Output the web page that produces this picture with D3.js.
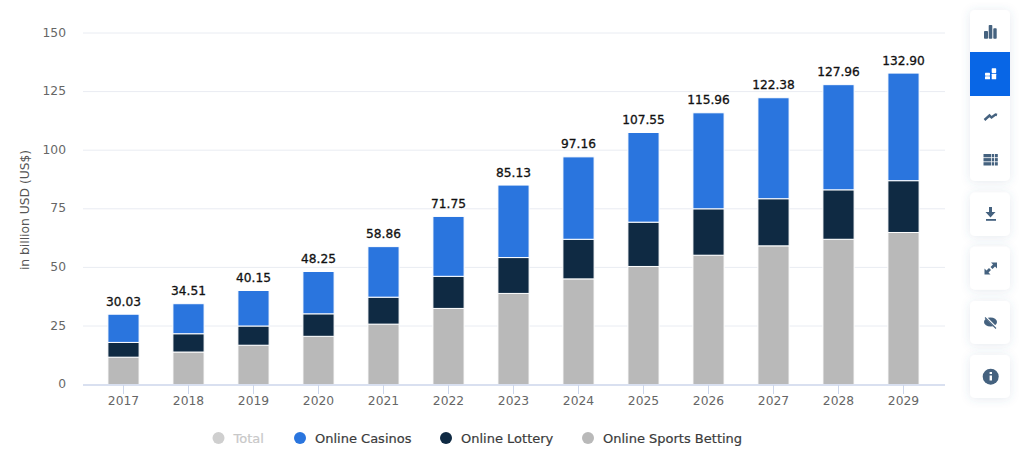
<!DOCTYPE html>
<html><head><meta charset="utf-8">
<script src="https://cdn.jsdelivr.net/npm/d3@7/dist/d3.min.js"></script>
<style>
html,body{margin:0;padding:0;background:#fff;overflow:hidden}
svg{display:block;font-family:"DejaVu Sans",sans-serif}
</style></head><body>
<svg id="c" width="1024" height="476"></svg>
<script>
const years=["2017","2018","2019","2020","2021","2022","2023","2024","2025","2026","2027","2028","2029"];
const totals=[30.03,34.51,40.15,48.25,58.86,71.75,85.13,97.16,107.55,115.96,122.38,127.96,132.90];
const sportsBetting=[11.7,13.9,16.8,20.6,25.8,32.5,38.9,45.1,50.4,55.2,59.2,62.0,64.9];
const onlineLottery=[6.3,7.8,8.2,9.6,11.5,13.7,15.3,16.9,18.9,19.8,20.1,21.1,22.1];
const onlineCasinos=[12.03,12.81,15.15,18.05,21.56,25.55,30.93,35.16,38.25,40.96,43.08,44.86,45.9];
const yTicks=[0,25,50,75,100,125,150];
const legendItems=[["Total","#cfcfcf","#c8c8c8"],["Online Casinos","#2a75de","#3b3b3b"],["Online Lottery","#0f2a43","#3b3b3b"],["Online Sports Betting","#b9b9b9","#3b3b3b"]];
const yTitle="in billion USD (US$)";

const svg=d3.select("#c");
const y=d3.scaleLinear().domain([0,150]).range([384.6,33]);
const x=d3.scaleBand().domain(years).range([91,936]).paddingInner(0.52).paddingOuter(0.26);

svg.append("g").selectAll("line").data(yTicks.filter(d=>d>0)).join("line")
  .attr("x1",83).attr("x2",945).attr("y1",d=>y(d)).attr("y2",d=>y(d))
  .attr("stroke","#e9ecf2").attr("stroke-width",1);

svg.append("g").selectAll("text").data(yTicks).join("text")
  .attr("x",66).attr("y",d=>y(d)+3.5).attr("text-anchor","end")
  .attr("font-size",12.3).attr("fill","#666").text(d=>d);

svg.append("text").attr("transform","translate(28.5,210) rotate(-90)")
  .attr("text-anchor","middle").attr("font-size",12.3).attr("fill","#555").text(yTitle);

const rows=years.map((yr,i)=>({yr,sports:sportsBetting[i],lottery:onlineLottery[i],casinos:onlineCasinos[i]}));
const keys=["sports","lottery","casinos"];
const cols={sports:"#b9b9b9",lottery:"#0f2a43",casinos:"#2a75de"};
const series=d3.stack().keys(keys)(rows);
svg.append("g").selectAll("g").data(series).join("g").attr("fill",s=>cols[s.key])
  .selectAll("rect").data(s=>s).join("rect")
  .attr("x",d=>x(d.data.yr)).attr("width",x.bandwidth())
  .attr("y",d=>y(d[1])).attr("height",d=>y(d[0])-y(d[1]))
  .attr("stroke","#fff").attr("stroke-width",1);

svg.append("g").selectAll("text").data(years).join("text")
  .attr("x",d=>x(d)+x.bandwidth()/2).attr("y",(d,i)=>y(totals[i])-8.5)
  .attr("text-anchor","middle").attr("font-size",12.2).attr("font-weight",400)
  .attr("fill","#111").attr("stroke","#111").attr("stroke-width",0.3).text((d,i)=>totals[i].toFixed(2));

svg.append("line").attr("x1",83).attr("x2",945).attr("y1",385).attr("y2",385).attr("stroke","#ccd6eb").attr("stroke-width",1.5);
svg.append("g").selectAll("line").data(years).join("line")
  .attr("x1",d=>x(d)+x.bandwidth()/2).attr("x2",d=>x(d)+x.bandwidth()/2).attr("y1",385).attr("y2",394).attr("stroke","#ccd6eb");
svg.append("g").selectAll("text").data(years).join("text")
  .attr("x",d=>x(d)+x.bandwidth()/2).attr("y",405).attr("text-anchor","middle")
  .attr("font-size",12.3).attr("fill","#666").text(d=>d);

const lx=[218.5,300,446,588];
const lg=svg.append("g").selectAll("g").data(legendItems).join("g").attr("transform",(d,i)=>`translate(${lx[i]},438)`);
lg.append("circle").attr("r",6).attr("fill",d=>d[1]);
lg.append("text").attr("x",15).attr("y",5).attr("font-size",13)
  .attr("fill",d=>d[2]).attr("stroke",d=>d[2]).attr("stroke-width",0.2).text(d=>d[0]);

const defs=svg.append("defs");
const f=defs.append("filter").attr("id","sh").attr("x","-40%").attr("y","-40%").attr("width","180%").attr("height","180%");
f.append("feDropShadow").attr("dx",0).attr("dy",1).attr("stdDeviation",5).attr("flood-color","#4a6a90").attr("flood-opacity",0.14);
const tb=svg.append("g");
const panels=[[10,171],[192.5,43.5],[246.7,43],[301,43],[355,43]];
tb.selectAll("rect.p").data(panels).join("rect").attr("class","p")
  .attr("x",970).attr("y",d=>d[0]).attr("width",40).attr("height",d=>d[1]).attr("rx",5)
  .attr("fill","#fff").attr("filter","url(#sh)");
tb.append("rect").attr("x",970).attr("y",52).attr("width",40).attr("height",44).attr("fill","#0866e6");
const ic="#45627f";
const icons=tb.append("g");
[[984,31,4,7.7],[988.7,25,3.6,13.7],[993.3,28.3,3.4,10.4]].forEach(r=>icons.append("rect").attr("x",r[0]).attr("y",r[1]).attr("width",r[2]).attr("height",r[3]).attr("rx",.8).attr("fill",ic));
[[985,72.7,5,3],[985,76.3,5,3],[991.7,68.3,4.5,4.6],[991.7,73.7,4.5,5.6]].forEach(r=>icons.append("rect").attr("x",r[0]).attr("y",r[1]).attr("width",r[2]).attr("height",r[3]).attr("rx",.6).attr("fill","#fff"));
icons.append("path").attr("d","M984.5 120 L989.5 115.5 L991.5 117.5 L995.5 114.5 L997 115").attr("fill","none").attr("stroke",ic).attr("stroke-width",2.4);
for(let r=0;r<3;r++)for(let c=0;c<3;c++){
  icons.append("rect").attr("x",[983.5,991.8,995][c]).attr("y",154+r*4.1).attr("width",[7.6,2.4,2.8][c]).attr("height",3.3).attr("fill",ic);
}
icons.append("path").attr("d","M989 207 h3 v5 h3.5 l-5 5.5 l-5 -5.5 h3.5 z").attr("fill",ic);
icons.append("rect").attr("x",986).attr("y",219).attr("width",10).attr("height",1.8).attr("fill",ic);
icons.append("path").attr("d","M984.5 274.5 v-6 l2 2 l2.5 -2.5 l2 2 l-2.5 2.5 l2 2 z M997 262.5 v6 l-2 -2 l-2.5 2.5 l-2 -2 l2.5 -2.5 l-2 -2 z").attr("fill",ic);
icons.append("ellipse").attr("cx",990.5).attr("cy",322).attr("rx",6.5).attr("ry",4.6).attr("fill",ic);
icons.append("line").attr("x1",985).attr("y1",316.5).attr("x2",996).attr("y2",327.5).attr("stroke","#fff").attr("stroke-width",2.2);
icons.append("line").attr("x1",985).attr("y1",317.5).attr("x2",996).attr("y2",328.5).attr("stroke",ic).attr("stroke-width",1.1);
icons.append("circle").attr("cx",990.7).attr("cy",376.7).attr("r",8).attr("fill",ic);
icons.append("rect").attr("x",989.6).attr("y",372).attr("width",2.4).attr("height",2).attr("fill","#fff");
icons.append("rect").attr("x",989.6).attr("y",375.5).attr("width",2.4).attr("height",5).attr("fill","#fff");
</script></body></html>
